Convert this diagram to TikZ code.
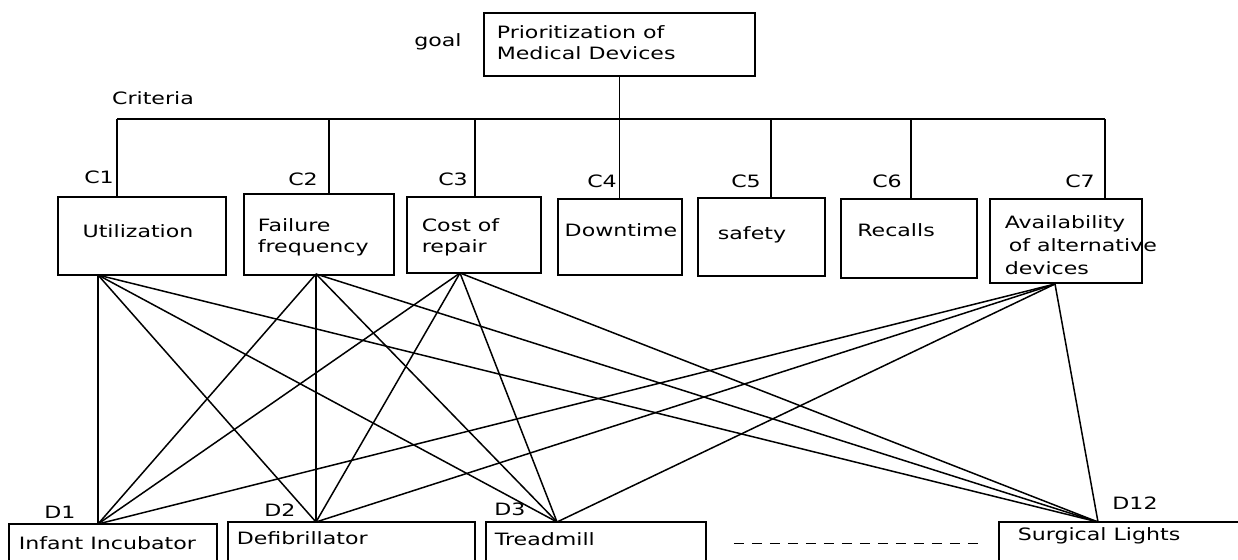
\documentclass[tikz,border=0pt]{standalone}
\usepackage{fontspec}
\setmainfont[FakeStretch=1.3]{DejaVu Sans}

\begin{document}
\begin{tikzpicture}[x=1pt,y=-1pt,line width=1.6pt,
    box/.style={draw,inner sep=0pt},
    lbl/.style={inner sep=0pt,font=\fontsize{17}{21}\selectfont},
    txt/.style={lbl,align=left,anchor=west},
    link/.style={line width=1.5pt}]

  \useasboundingbox (0,0) rectangle (1238,559);
  \clip (0,0) rectangle (1238,559);

  % goal
  \node[box,minimum width=271pt,minimum height=63pt] (goal) at (619.5,44.5) {};
  \node[txt] (goaltxt) at (496,43) {Prioritization of\\Medical Devices};
  \node[lbl] (goallbl) at (438,42) {goal};
  \node[lbl] (critlbl) at (153,98) {Criteria};

  % criteria
  \node[box,minimum width=168pt,minimum height=78pt] (c1) at (142,236)   {};
  \node[box,minimum width=150pt,minimum height=81pt] (c2) at (319,234.5) {};
  \node[box,minimum width=134pt,minimum height=76pt] (c3) at (474,235)   {};
  \node[box,minimum width=124pt,minimum height=76pt] (c4) at (620,237)   {};
  \node[box,minimum width=127pt,minimum height=78pt] (c5) at (761.5,237) {};
  \node[box,minimum width=136pt,minimum height=79pt] (c6) at (909,238.5) {};
  \node[box,minimum width=152pt,minimum height=84pt] (c7) at (1066,241)  {};

  \node[lbl] (c1txt) at (138,231) {Utilization};
  \node[txt] (c2txt) at (257,237.5) {Failure\\ frequency};
  \node[txt] (c3txt) at (421,237.5) {Cost of\\repair};
  \node[lbl] (c4txt) at (621,230) {Downtime};
  \node[lbl] (c5txt) at (752,235) {safety};
  \node[lbl] (c6txt) at (896,230) {Recalls};
  \node[txt,font=\fontsize{17}{23}\selectfont] (c7txt) at (1004,245)
    {Availability\\\hspace{4pt}of alternative\\devices};

  \node[lbl] (c1lbl) at (99,177)   {C1};
  \node[lbl] (c2lbl) at (303,179)  {C2};
  \node[lbl] (c3lbl) at (453,179)  {C3};
  \node[lbl] (c4lbl) at (602,181)  {C4};
  \node[lbl] (c5lbl) at (746,181)  {C5};
  \node[lbl] (c6lbl) at (887,181)  {C6};
  \node[lbl] (c7lbl) at (1080,181) {C7};

  % bus
  \coordinate (t1) at (117,119);
  \coordinate (t2) at (329,119);
  \coordinate (t3) at (475,119);
  \coordinate (t5) at (771,119);
  \coordinate (t6) at (911,119);
  \coordinate (t7) at (1105,119);
  \draw (t1) -- (t7);
  \draw (goal.south) -- (goal.south |- c4.north);
  \foreach \i in {1,2,3,5,6,7}
    \draw (t\i) -- (t\i |- c\i.north);

  % devices
  \node[box,minimum width=208pt,minimum height=41pt] (d1)  at (113,544.5)  {};
  \node[box,minimum width=247pt,minimum height=43pt] (d2)  at (351.5,543.5) {};
  \node[box,minimum width=220pt,minimum height=43pt] (d3)  at (596,543.5)  {};
  \node[box,minimum width=246pt,minimum height=43pt] (d12) at (1122,543.5) {};

  \node[txt] (d1txt)  at (18,543)   {Infant Incubator};
  \node[txt] (d2txt)  at (236,538)  {Defibrillator};
  \node[txt] (d3txt)  at (494,539)  {Treadmill};
  \node[txt] (d12txt) at (1017,536) {Surgical Lights};

  \node[lbl] (d1lbl)  at (60,512)   {D1};
  \node[lbl] (d2lbl)  at (280,510)  {D2};
  \node[lbl] (d3lbl)  at (510,509)  {D3};
  \node[lbl] (d12lbl) at (1135,503) {D12};

  \draw[dash pattern=on 10pt off 8pt,shorten <=27pt,shorten >=19pt]
    (d3.east) -- (d12.west);

  % links
  \coordinate (a1) at (98,275);
  \coordinate (a2) at (316,274);
  \coordinate (a3) at (460,273);
  \coordinate (a7) at (1055,284);
  \coordinate (e1) at (98,524);
  \coordinate (e2) at (316,522);
  \coordinate (e3) at (557,522);
  \coordinate (e12) at (1098,522);

  \path[link] (a1) edge (e1) edge (e2) edge (e3) edge (e12)
              (a2) edge (e1) edge (e2) edge (e3) edge (e12)
              (a3) edge (e1) edge (e2) edge (e3) edge (e12)
              (a7) edge (e1) edge (e2) edge (e3) edge (e12);
\end{tikzpicture}
\end{document}
